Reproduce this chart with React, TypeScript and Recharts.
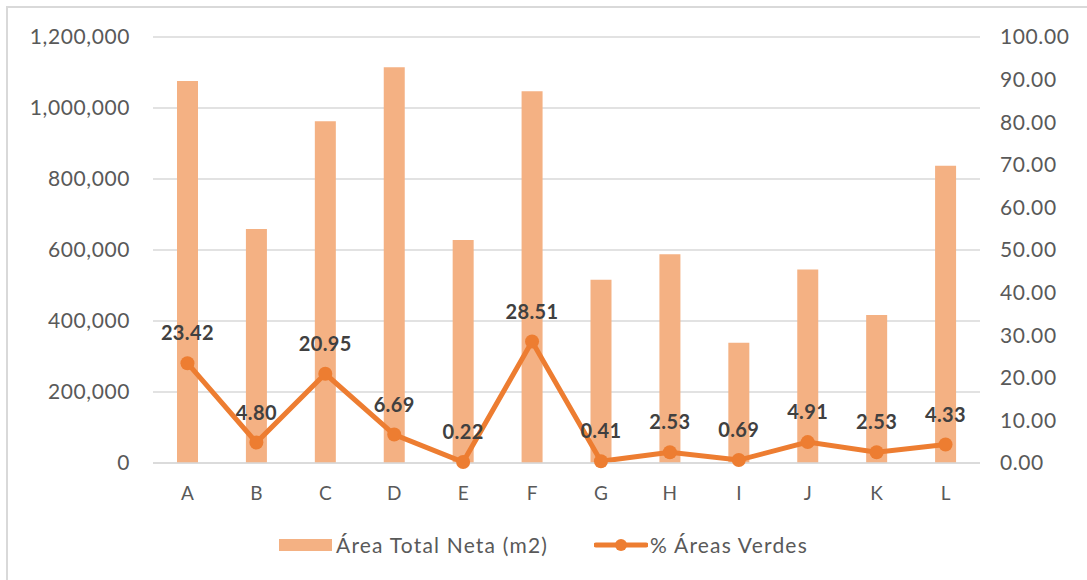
import {
  ComposedChart,
  Bar,
  Line,
  XAxis,
  YAxis,
  CartesianGrid,
  Legend,
  LabelList,
} from 'recharts';

const categories = ['A', 'B', 'C', 'D', 'E', 'F', 'G', 'H', 'I', 'J', 'K', 'L'];
const areaTotal = [1076000, 659000, 963000, 1115000, 628000, 1047000, 516000, 588000, 339000, 545000, 417000, 837000];
const pctVerdes = [23.42, 4.8, 20.95, 6.69, 0.22, 28.51, 0.41, 2.53, 0.69, 4.91, 2.53, 4.33];
const leftTicks = [0, 200000, 400000, 600000, 800000, 1000000, 1200000];
const rightTicks = [0, 10, 20, 30, 40, 50, 60, 70, 80, 90, 100];

const BAR_COLOR = '#F4B183';
const LINE_COLOR = '#ED7D31';
const TEXT = '#595959';
const FONT = "'Century Gothic', Lato, sans-serif";

const data = categories.map((name, i) => ({
  name,
  area: areaTotal[i],
  pct: pctVerdes[i],
}));

function LegendContent() {
  return (
    <div style={{ display: 'flex', justifyContent: 'center', alignItems: 'center', fontFamily: FONT, fontSize: 21, letterSpacing: 1.2, color: TEXT }}>
      <div style={{ display: 'flex', alignItems: 'center', marginRight: 46 }}>
        <span style={{ display: 'inline-block', width: 53, height: 12, background: BAR_COLOR, marginRight: 4 }} />
        <span>Área Total Neta (m2)</span>
      </div>
      <div style={{ display: 'flex', alignItems: 'center' }}>
        <svg width={54} height={14} style={{ marginRight: 2 }}>
          <line x1={2} y1={7} x2={52} y2={7} stroke={LINE_COLOR} strokeWidth={5} strokeLinecap="round" />
          <circle cx={27} cy={7} r={6} fill={LINE_COLOR} />
        </svg>
        <span>% Áreas Verdes</span>
      </div>
    </div>
  );
}

export default function App() {
  return (
    <div style={{ position: 'absolute', left: 0, top: 0, width: 1087, height: 580, background: '#fff', overflow: 'hidden' }}>
      <div style={{ position: 'absolute', left: 6, top: 6, width: 1100, height: 600, border: '2px solid #d9d9d9' }} />
      <ComposedChart
        width={1087}
        height={580}
        data={data}
        margin={{ top: 37, right: 0, left: 0, bottom: 67 }}
        style={{ position: 'absolute', left: 0, top: 0 }}
      >
        <CartesianGrid yAxisId="left" vertical={false} stroke="#d9d9d9" strokeWidth={1.5} />
        <XAxis
          dataKey="name"
          height={50}
          axisLine={{ stroke: '#d9d9d9', strokeWidth: 1.5 }}
          tickLine={false}
          tickMargin={18}
          tick={{ fill: TEXT, fontSize: 19, fontFamily: FONT }}
        />
        <YAxis
          yAxisId="left"
          width={153}
          domain={[0, 1200000]}
          ticks={leftTicks}
          axisLine={false}
          tickLine={false}
          tickMargin={17}
          tick={{ fill: TEXT, fontSize: 21, fontFamily: FONT, letterSpacing: 0.6 }}
          tickFormatter={(v) => Number(v).toLocaleString('en-US')}
        />
        <YAxis
          yAxisId="right"
          orientation="right"
          width={107}
          domain={[0, 100]}
          ticks={rightTicks}
          axisLine={false}
          tickLine={false}
          tickMargin={14}
          tick={{ fill: TEXT, fontSize: 21, fontFamily: FONT, letterSpacing: 0.6 }}
          tickFormatter={(v) => Number(v).toFixed(2)}
        />
        <Legend
          layout="horizontal"
          verticalAlign="middle"
          align="center"
          wrapperStyle={{ top: 532, left: 0, width: 1087 }}
          content={<LegendContent />}
        />
        <Bar yAxisId="left" dataKey="area" name="Área Total Neta (m2)" fill={BAR_COLOR} barSize={21} isAnimationActive={false} />
        <Line
          yAxisId="right"
          dataKey="pct"
          name="% Áreas Verdes"
          stroke={LINE_COLOR}
          strokeWidth={5}
          dot={{ r: 7, fill: LINE_COLOR, stroke: LINE_COLOR, strokeWidth: 0 }}
          activeDot={false}
          isAnimationActive={false}
        >
          <LabelList
            dataKey="pct"
            position="top"
            offset={23}
            formatter={(v) => Number(v).toFixed(2)}
            style={{ fill: '#404040', fontSize: 20, fontWeight: 700, fontFamily: FONT, letterSpacing: 0.4 }}
          />
        </Line>
      </ComposedChart>
    </div>
  );
}
